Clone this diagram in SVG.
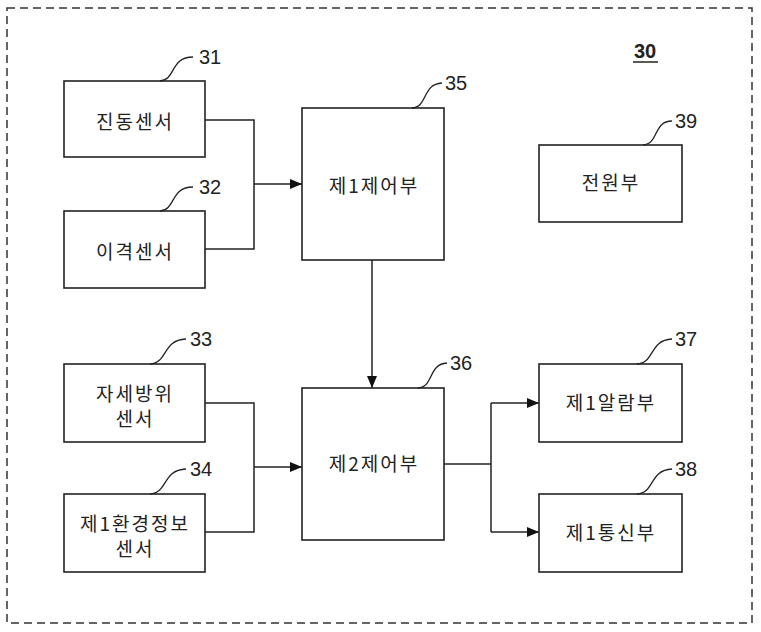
<svg xmlns="http://www.w3.org/2000/svg" width="761" height="632" viewBox="0 0 761 632">
<style>
.box{fill:#fff;stroke:#222;stroke-width:1.6}
.lbl{font-family:"Noto Sans CJK KR","Liberation Sans",sans-serif;font-size:19px;fill:#222;text-anchor:middle;letter-spacing:2px}
.num{font-family:"Liberation Sans",Arial,sans-serif;font-size:20px;fill:#222}
.ld{fill:none;stroke:#222;stroke-width:1.3}
.cn{fill:none;stroke:#222;stroke-width:1.5}
</style>
<defs>
<marker id="ah" viewBox="0 0 12 10" refX="12" refY="5" markerWidth="12" markerHeight="10" markerUnits="userSpaceOnUse" orient="auto">
<path d="M0,0 L12,5 L0,10 Z" fill="#111"/>
</marker>
</defs>
<rect x="0" y="0" width="761" height="632" fill="#fff"/>
<rect x="7" y="8" width="745" height="615" fill="none" stroke="#333" stroke-width="1.5" stroke-dasharray="8,5"/>
<g id="title30">
<text class="num" x="634" y="58" font-weight="bold">30</text>
<line x1="633" y1="62" x2="658" y2="62" stroke="#222" stroke-width="1.5"/>
</g>
<g id="connectors">
<path class="cn" d="M205,120 H254 V249 H205"/>
<path class="cn" d="M254,184 H302" stroke-width="2.2" marker-end="url(#ah)"/>
<path class="cn" d="M372,260 V388" marker-end="url(#ah)"/>
<path class="cn" d="M205,403 H254 V532 H205"/>
<path class="cn" d="M254,467 H302" marker-end="url(#ah)"/>
<path class="cn" d="M444,464 H491"/>
<path class="cn" d="M491,403 V532"/>
<path class="cn" d="M491,403 H539" marker-end="url(#ah)"/>
<path class="cn" d="M491,532 H539" marker-end="url(#ah)"/>
</g>
<g id="n31">
<rect class="box" x="64" y="81" width="141" height="76"/>
<text class="lbl" x="135" y="129">진동센서</text>
<path class="ld" d="M160,81 C176,80 170,57 193,57"/>
<text class="num" x="199" y="64">31</text>
</g>
<g id="n32">
<rect class="box" x="64" y="211" width="141" height="77"/>
<text class="lbl" x="135" y="259">이격센서</text>
<path class="ld" d="M160,211 C176,210 170,187 193,187"/>
<text class="num" x="199" y="194">32</text>
</g>
<g id="n35">
<rect class="box" x="302" y="108" width="142" height="152"/>
<text class="lbl" x="374" y="193">제1제어부</text>
<path class="ld" d="M412,108 C428,107 422,84 442,83"/>
<text class="num" x="445" y="90">35</text>
</g>
<g id="n39">
<rect class="box" x="539" y="145" width="143" height="77"/>
<text class="lbl" x="611" y="190">전원부</text>
<path class="ld" d="M643,145 C659,144 653,121 672,121"/>
<text class="num" x="675" y="128">39</text>
</g>
<g id="n33">
<rect class="box" x="64" y="364" width="141" height="78"/>
<text class="lbl" x="135" y="401">자세방위<tspan x="135" dy="25">센서</tspan></text>
<path class="ld" d="M150,364 C168,363 162,340 186,339"/>
<text class="num" x="190" y="346">33</text>
</g>
<g id="n34">
<rect class="box" x="64" y="494" width="141" height="78"/>
<text class="lbl" x="135" y="531">제1환경정보<tspan x="135" dy="25">센서</tspan></text>
<path class="ld" d="M150,494 C168,493 162,470 186,469"/>
<text class="num" x="190" y="476">34</text>
</g>
<g id="n36">
<rect class="box" x="302" y="388" width="142" height="152"/>
<text class="lbl" x="374" y="471">제2제어부</text>
<path class="ld" d="M418,388 C434,387 428,364 447,363"/>
<text class="num" x="450" y="370">36</text>
</g>
<g id="n37">
<rect class="box" x="539" y="364" width="143" height="78"/>
<text class="lbl" x="611" y="410">제1알람부</text>
<path class="ld" d="M637,364 C655,363 649,340 672,339"/>
<text class="num" x="675" y="346">37</text>
</g>
<g id="n38">
<rect class="box" x="539" y="494" width="143" height="78"/>
<text class="lbl" x="611" y="540">제1통신부</text>
<path class="ld" d="M637,494 C655,493 649,470 672,469"/>
<text class="num" x="675" y="476">38</text>
</g>
</svg>
